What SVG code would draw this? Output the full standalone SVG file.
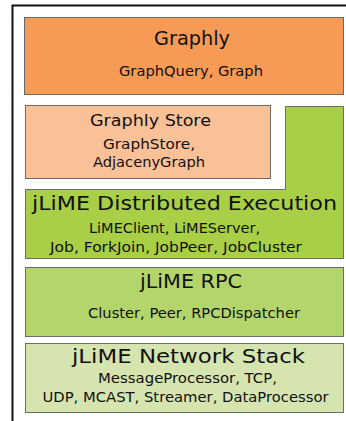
<svg xmlns="http://www.w3.org/2000/svg" width="346" height="421" viewBox="0 0 346 421">
<style>
.box{stroke:#6b6b6b;stroke-width:1}
text{font-family:"DejaVu Sans",Verdana,sans-serif;fill:#111;text-anchor:middle}
.t{font-size:20px}
.s{font-size:14px}
</style>
<rect width="346" height="421" fill="#fff"/>
<path d="M12.5,421 V5.5 H346" fill="none" stroke="#111" stroke-width="2"/>
<g id="graphly">
<rect class="box" x="24.5" y="17.5" width="319" height="77" fill="#F79A56"/>
<text class="t" x="192" y="45" textLength="76" lengthAdjust="spacingAndGlyphs">Graphly</text>
<text class="s" x="191" y="76" textLength="144" lengthAdjust="spacingAndGlyphs">GraphQuery, Graph</text>
</g>
<g id="store">
<rect class="box" x="25.5" y="105.5" width="245" height="73" fill="#FAC097"/>
<text x="150.5" y="126" style="font-size:16px" textLength="121" lengthAdjust="spacingAndGlyphs">Graphly Store</text>
<text class="s" x="149" y="149" textLength="92" lengthAdjust="spacingAndGlyphs">GraphStore,</text>
<text class="s" x="149" y="167" textLength="112" lengthAdjust="spacingAndGlyphs">AdjacenyGraph</text>
</g>
<g id="distributed">
<path class="box" d="M285.5,106.5 H343.5 V258.5 H25.5 V189.5 H285.5 Z" fill="#A8CF45"/>
<text class="t" x="184.5" y="210" textLength="305" lengthAdjust="spacingAndGlyphs">jLiME Distributed Execution</text>
<text class="s" x="174.5" y="233" textLength="171" lengthAdjust="spacingAndGlyphs">LiMEClient, LiMEServer,</text>
<text class="s" x="176" y="252" textLength="252" lengthAdjust="spacingAndGlyphs">Job, ForkJoin, JobPeer, JobCluster</text>
</g>
<g id="rpc">
<rect class="box" x="25.5" y="267.5" width="318" height="69" fill="#B4D56C"/>
<text class="t" x="191" y="288" textLength="102" lengthAdjust="spacingAndGlyphs">jLiME RPC</text>
<text class="s" x="194" y="318" textLength="212" lengthAdjust="spacingAndGlyphs">Cluster, Peer, RPCDispatcher</text>
</g>
<g id="network">
<rect class="box" x="25.5" y="343.5" width="318" height="69" fill="#D6E5AF"/>
<text class="t" x="188.5" y="363" textLength="233" lengthAdjust="spacingAndGlyphs">jLiME Network Stack</text>
<text class="s" x="187.5" y="383" textLength="179" lengthAdjust="spacingAndGlyphs">MessageProcessor, TCP,</text>
<text class="s" x="185.5" y="402" textLength="286" lengthAdjust="spacingAndGlyphs">UDP, MCAST, Streamer, DataProcessor</text>
</g>
<g id="connectors"></g>
</svg>
